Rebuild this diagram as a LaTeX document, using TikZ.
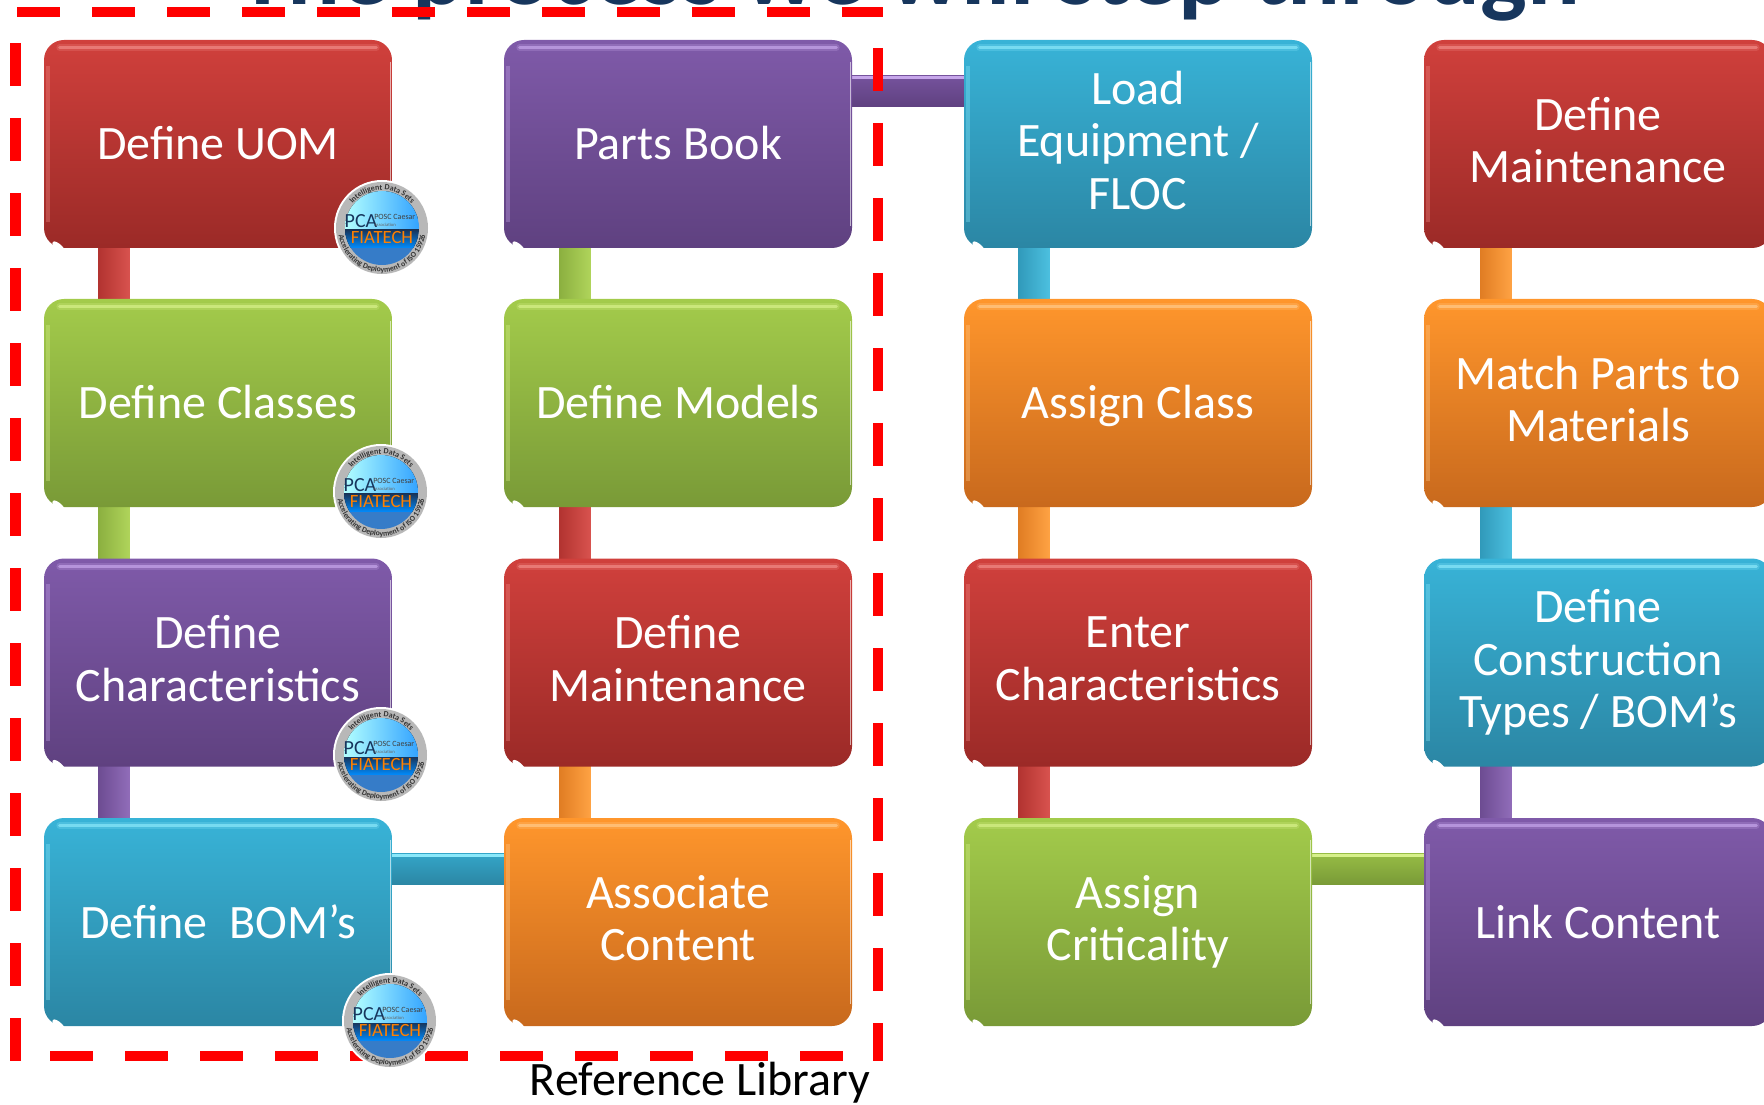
\documentclass[tikz,border=0pt]{standalone}
\usepackage{fontspec}
\setmainfont{Carlito}
\usetikzlibrary{calc,decorations.text}
\definecolor{redA}{HTML}{D0403C}\definecolor{redB}{HTML}{9B2A27}\definecolor{redL}{HTML}{F08A86}
\definecolor{greA}{HTML}{A3CB4B}\definecolor{greB}{HTML}{799A37}\definecolor{greL}{HTML}{D6F08A}
\definecolor{purA}{HTML}{7F5AA9}\definecolor{purB}{HTML}{5F4180}\definecolor{purL}{HTML}{C6A6EA}
\definecolor{bluA}{HTML}{38B3D7}\definecolor{bluB}{HTML}{2B86A4}\definecolor{bluL}{HTML}{8AE8FA}
\definecolor{oraA}{HTML}{FF962C}\definecolor{oraB}{HTML}{C8691D}\definecolor{oraL}{HTML}{FFC98A}
\definecolor{titleblue}{HTML}{17365D}
\newcommand{\gstrut}{\rule[-6pt]{0pt}{36pt}}
\tikzset{
  x=0.75pt,y=-0.75pt,
  boxsize/.style={rectangle,minimum width=261pt,minimum height=156pt,inner sep=0pt},
  glossbox/.style n args={2}{boxsize,rounded corners=15pt,
    top color=#1,middle color=#1!65!#2,bottom color=#2,text=white,align=center,
    font=\fontsize{36}{39.3}\selectfont,execute at begin node=\gstrut,execute at end node=\gstrut},
  vlink/.style n args={3}{draw=none,left color=#1!45!#2,middle color=#1!45!#2,right color=#3!25!#1},
  hlink/.style n args={2}{draw=none,top color=#1,bottom color=#2},
  redash/.style={red,line width=8pt,dash pattern=on 32.25pt off 24pt},
  sealtext/.style={inner sep=0pt,text=#1},
}
\newcommand{\gbox}[5]{%
  \node[glossbox={#4A}{#4B}] (#1) at (#2,#3) {#5};
  \draw[#4L,line width=5pt,opacity=.25,line cap=round] ($(#1.north west)+(16,8)$) -- ($(#1.north east)+(-16,8)$);
  \draw[#4L,line width=2.5pt,opacity=.7,line cap=round] ($(#1.north west)+(16,8)$) -- ($(#1.north east)+(-16,8)$);
  \draw[#4L,line width=3pt,opacity=.35] ($(#1.north west)+(4,26)$) -- ($(#1.south west)+(4,-26)$);
  \draw[white,line width=1pt,opacity=.6] ($(#1.north east)+(-2,22)$) -- ($(#1.south east)+(-2,-22)$);
  \fill[white,rotate around={-45:($(#1.south west)+(11,-11)$)}] ($(#1.south west)+(11,-11)$) ellipse (9 and 3.5);
}
\newcommand{\vconn}[4][0]{%
  \draw[vlink={#4A}{#4B}{#4L}] ($(#2.south west)+(55+#1,-2)$) rectangle ($(#3.north west)+(86+#1,2)$);
}
\newcommand{\hconn}[3]{%
  \draw[hlink={#3A!70!#3B}{#3B}] ($(#1.north east)+(-2,36)$) rectangle ($(#2.north west)+(2,67)$);
  \draw[#3L,line width=2pt] ($(#1.north east)+(-2,38)$) -- ($(#2.north west)+(2,38)$);
}
\newcommand{\seal}[3]{%
  \begin{scope}[shift={(#2,#3)},y=0.75pt]
    \fill[white] (0,0) circle (48);
    \node[circle,minimum size=69pt,inner sep=0pt,fill=black!28] (#1) at (0,0) {};
    \begin{scope}
      \clip (0,0) circle (37);
      \fill[left color=white!70!cyan,right color=cyan!55!blue!80!white] (-37,37) rectangle (37,-2);
      \fill[top color=titleblue,bottom color=cyan!55!blue] (-37,-2) rectangle (37,-20);
      \fill[cyan!50!blue!85!white] (-37,-20) rectangle (37,-37);
    \end{scope}
    \node[sealtext=titleblue,font=\fontsize{15}{15}\selectfont] (#1p) at (-21,7) {PCA};
    \node[sealtext=black!75,font=\fontsize{6}{6}\selectfont,anchor=west] (#1q) at (-8,11) {POSC Caesar};
    \node[sealtext=black!60,font=\fontsize{3.5}{3.5}\selectfont,anchor=west] (#1r) at (-8,3) {Association};
    \node[sealtext=orange,font=\fontsize{14}{14}\selectfont] (#1f) at (0,-10) {FIATECH};
    \path[decorate,decoration={text along path,text align=center,
      text={|\bfseries\fontsize{6}{6}\selectfont\color{black!80}|Intelligent Data Sets}}]
      (155:38) arc (155:25:38);
    \path[decorate,decoration={text along path,text align=center,
      text={|\bfseries\fontsize{5.8}{5.8}\selectfont\color{black!80}|Accelerating Deployment of ISO 15926}}]
      (178:44) arc (178:362:44);
  \end{scope}
}
\begin{document}
\begin{tikzpicture}
\useasboundingbox (0,0) rectangle (1764,1105);
\clip (0,0) rectangle (1764,1105);
\node[anchor=base west,inner sep=0pt,text=titleblue,font=\bfseries\fontsize{74}{74}\selectfont] (title) at (238,5) {The process we will step through};
% placeholders so that connectors can be laid beneath the boxes
\node[boxsize] (A1) at (218,144) {};
\node[boxsize] (A2) at (218,403) {};
\node[boxsize] (A3) at (218,662.5) {};
\node[boxsize] (A4) at (218,922) {};
\node[boxsize] (B1) at (678,144) {};
\node[boxsize] (B2) at (678,403) {};
\node[boxsize] (B3) at (678,662.5) {};
\node[boxsize] (B4) at (678,922) {};
\node[boxsize] (C1) at (1138,144) {};
\node[boxsize] (C2) at (1138,403) {};
\node[boxsize] (C3) at (1138,662.5) {};
\node[boxsize] (C4) at (1138,922) {};
\node[boxsize] (D1) at (1598,144) {};
\node[boxsize] (D2) at (1598,403) {};
\node[boxsize] (D3) at (1598,662.5) {};
\node[boxsize] (D4) at (1598,922) {};
% connectors
\vconn{A1}{A2}{red}\vconn{A2}{A3}{gre}\vconn{A3}{A4}{pur}
\vconn[1]{B1}{B2}{gre}\vconn[1]{B2}{B3}{red}\vconn[1]{B3}{B4}{ora}
\vconn{C1}{C2}{blu}\vconn{C2}{C3}{ora}\vconn{C3}{C4}{red}
\vconn[2]{D1}{D2}{ora}\vconn[2]{D2}{D3}{blu}\vconn[2]{D3}{D4}{pur}
\hconn{B1}{C1}{pur}
\hconn{A4}{B4}{blu}
\hconn{C4}{D4}{gre}
% boxes
\gbox{uom}{218}{144}{red}{Define UOM}
\gbox{classes}{218}{403}{gre}{Define Classes}
\gbox{chars}{218}{662.5}{pur}{Define\\Characteristics}
\gbox{boms}{218}{922}{blu}{Define\ \ BOM’s}
\gbox{parts}{678}{144}{pur}{Parts Book}
\gbox{models}{678}{403}{gre}{Define Models}
\gbox{maint}{678}{662.5}{red}{Define\\Maintenance}
\gbox{assoc}{678}{922}{ora}{Associate\\Content}
\gbox{load}{1138}{144}{blu}{Load\\Equipment /\\FLOC}
\gbox{assign}{1138}{403}{ora}{Assign Class}
\gbox{enter}{1138}{662.5}{red}{Enter\\Characteristics}
\gbox{crit}{1138}{922}{gre}{Assign\\Criticality}
\gbox{dmaint}{1598}{144}{red}{Define\\Maintenance}
\gbox{match}{1598}{403}{ora}{Match Parts to\\Materials}
\gbox{cons}{1598}{662.5}{blu}{Define\\Construction\\Types / BOM’s}
\gbox{link}{1598}{922}{pur}{Link Content}
% dashed frame
\draw[redash] (17,12) -- (883,12);
\draw[redash] (878,48) -- (878,1061);
\draw[redash] (50,1056) -- (845,1056);
\draw[redash] (15.5,43) -- (15.5,1061);
\node[anchor=base,inner sep=0pt,font=\fontsize{36}{39.3}\selectfont] (reflib) at (700,1095) {Reference Library};
% seals
\seal{s1}{382}{228}
\seal{s2}{381}{492}
\seal{s3}{381}{755}
\seal{s4}{390}{1021}
\end{tikzpicture}
\end{document}
